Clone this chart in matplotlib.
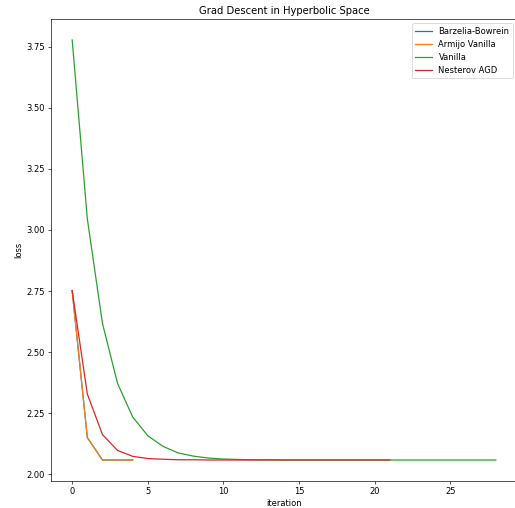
import matplotlib
matplotlib.use('Agg')
import matplotlib.pyplot as plt

# loss per iteration
bb_loss = [2.752, 2.151, 2.059, 2.059, 2.059]
armijo_loss = [2.752, 2.151, 2.059, 2.059, 2.059]
vanilla_loss = [3.777, 3.046, 2.618, 2.372, 2.235, 2.158, 2.115, 2.088, 2.075,
                2.067, 2.063, 2.061, 2.060, 2.060, 2.059, 2.059, 2.059, 2.059,
                2.059, 2.059, 2.059, 2.059, 2.059, 2.059, 2.059, 2.059, 2.059,
                2.059, 2.059]
nesterov_loss = [2.752, 2.329, 2.163, 2.098, 2.074, 2.065, 2.062, 2.060, 2.060,
                 2.059, 2.059, 2.059, 2.059, 2.059, 2.059, 2.059, 2.059, 2.059,
                 2.059, 2.059, 2.059, 2.059]

# original looks like a default-style figure shrunk down, so use a low dpi
dpi = 60
fig = plt.figure(figsize=(515 / dpi, 508 / dpi), dpi=dpi)
# axes runs a little past the right edge, like the cropped original
ax = fig.add_axes([51 / 515, 27 / 508, 466 / 515, 462 / 508])

ax.plot(range(len(bb_loss)), bb_loss, label='Barzelia-Bowrein')
ax.plot(range(len(armijo_loss)), armijo_loss, label='Armijo Vanilla')
ax.plot(range(len(vanilla_loss)), vanilla_loss, label='Vanilla')
ax.plot(range(len(nesterov_loss)), nesterov_loss, label='Nesterov AGD')

ax.set_title('Grad Descent in Hyperbolic Space')
ax.set_xlabel('iteration')
ax.set_ylabel('loss')
ax.legend(loc='upper right')

fig.savefig('out.png', dpi=dpi)
